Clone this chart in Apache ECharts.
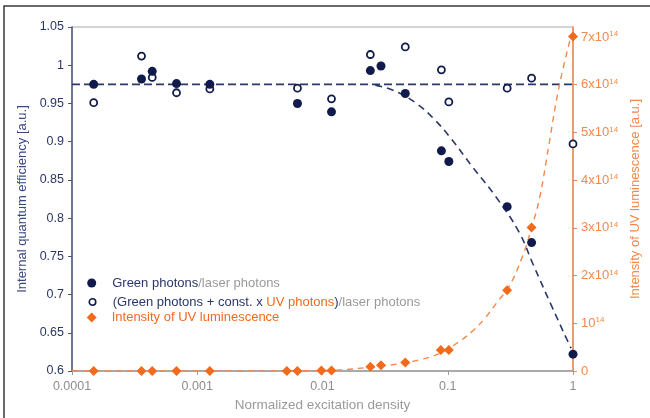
<!DOCTYPE html>
<html>
<head>
<meta charset="utf-8">
<script src="https://cdn.jsdelivr.net/npm/echarts@6/dist/echarts.min.js"></script>
<style>
  html, body { margin: 0; padding: 0; background: #ffffff; }
  #chart { width: 650px; height: 418px; }
</style>
</head>
<body>
<div id="chart"></div>
<script>
// Normalized excitation density of each measurement
const density = [1.49e-4, 3.59e-4, 4.37e-4, 6.83e-4, 1.26e-3, 6.31e-3, 1.18e-2, 2.41e-2, 2.93e-2, 4.58e-2, 8.9e-2, 1.02e-1, 2.98e-1, 4.67e-1, 1];
// Internal quantum efficiency: green photons / laser photons
const greenIqe = [0.975, 0.982, 0.992, 0.976, 0.975, 0.950, 0.939, 0.993, 0.999, 0.963, 0.888, 0.874, 0.815, 0.768, 0.622];
// (green photons + const. x UV photons) / laser photons
const greenUvIqe = [0.951, 1.012, 0.984, 0.964, 0.969, 0.970, 0.956, 1.014, null, 1.024, 0.994, 0.952, 0.970, 0.983, 0.897];

// UV luminescence intensity [a.u.]
const uvDensity = [1.49e-4, 3.59e-4, 4.37e-4, 6.83e-4, 1.26e-3, 5.19e-3, 6.31e-3, 9.8e-3, 1.18e-2, 2.41e-2, 2.93e-2, 4.58e-2, 8.8e-2, 1.02e-1, 2.98e-1, 4.67e-1, 1];
const uvIntensity = [0, 0, 0, 0, 0, 0, 0, 0.01e14, 0.01e14, 0.09e14, 0.12e14, 0.18e14, 0.44e14, 0.44e14, 1.69e14, 3.01e14, 7.01e14];

// Guide curves
const flatFitDensity = [1e-4, 1];
const flatFitIqe = [0.975, 0.975];
const droopFitDensity = [0.0264, 0.037, 0.0552, 0.0773, 0.1076, 0.1556, 0.2421, 0.370, 0.4786, 0.6792, 0.8954, 0.9638];
const droopFitIqe = [0.974, 0.967, 0.951, 0.930, 0.903, 0.868, 0.828, 0.782, 0.740, 0.684, 0.641, 0.630];
const uvFitDensity = [1e-4, 0.0064, 0.0134, 0.0242, 0.0406, 0.0586, 0.0847, 0.1225, 0.1614, 0.2014, 0.2559, 0.3076, 0.391, 0.467, 0.5445, 0.6427, 0.7727, 0.964];
const uvFitIntensity = [0, 0.005e14, 0.02e14, 0.08e14, 0.15e14, 0.23e14, 0.36e14, 0.61e14, 0.86e14, 1.13e14, 1.49e14, 1.76e14, 2.37e14, 3.0e14, 3.66e14, 4.75e14, 5.95e14, 7.02e14];

// Axis tick labels
const xTickLabels = ['0.0001', '0.001', '0.01', '0.1', '1'];
const uvTickLabels = ['0', '{n|10}{s|14}', '{n|2x10}{s|14}', '{n|3x10}{s|14}', '{n|4x10}{s|14}',
                      '{n|5x10}{s|14}', '{n|6x10}{s|14}', '{n|7x10}{s|14}'];
const uvTickValues = [0, 1e14, 2e14, 3e14, 4e14, 5e14, 6e14, 7e14];

// Legend entries
const legendTexts = [
  '{n|Green photons}{g|/laser photons}',
  '{n|(Green photons + const. x }{o|UV photons}{n|)}{g|/laser photons}',
  '{o|Intensity of UV luminescence}'
];

const NAVY = '#111b4b';
const NAVY_LINE = '#2a376b';
const NAVY_TEXT = '#2b3668';
const ORANGE = '#f26a1c';
const ORANGE_LINE = '#f5884a';
const GRAY = '#8d8d8d';
const FONT = '"Liberation Sans", Arial, Helvetica, sans-serif';

const pairs = (xs, ys) => xs.map((x, i) => [x, ys[i]]).filter(p => p[1] != null);

const legendRich = {
  n: { color: NAVY_TEXT, fontSize: 13, fontFamily: FONT },
  g: { color: '#9a9a9a', fontSize: 13, fontFamily: FONT },
  o: { color: ORANGE, fontSize: 13, fontFamily: FONT }
};

function makeLegend(name, idx, top, size, gapPad) {
  return {
    data: [name],
    left: 91.7 - size / 2,
    top: top,
    orient: 'vertical',
    padding: 0,
    itemWidth: size,
    itemHeight: size,
    selectedMode: false,
    formatter: () => legendTexts[idx],
    textStyle: { fontFamily: FONT, fontSize: 13, padding: [0, 0, 0, gapPad], rich: legendRich }
  };
}

const chart = echarts.init(document.getElementById('chart'), null, { renderer: 'canvas' });

chart.setOption({
  animation: false,
  backgroundColor: '#ffffff',
  textStyle: { fontFamily: FONT },
  graphic: [{
    type: 'rect',
    shape: { x: 4, y: 6, width: 700, height: 500 },
    style: { fill: 'none', stroke: '#3a3a3a', lineWidth: 1.5 },
    silent: true
  }],
  grid: {
    left: 72, right: 76, top: 27, bottom: 47,
    show: true, borderColor: '#a8a8a8', borderWidth: 1, backgroundColor: 'transparent'
  },
  legend: [
    makeLegend('green', 0, 276.5, 9, 11),
    {
      ...makeLegend('greenUv', 1, 295.5, 6.5, 12),
      itemStyle: { borderWidth: 1.6 }
    },
    makeLegend('uv', 2, 311, 10, 10)
  ],
  xAxis: {
    type: 'log',
    logBase: 10,
    min: 1e-4,
    max: 1,
    name: 'Normalized excitation density',
    nameLocation: 'middle',
    nameGap: 26,
    nameTextStyle: { color: '#9a9a9a', fontSize: 13.5, fontFamily: FONT },
    axisLine: { lineStyle: { color: '#9c9c9c', width: 1.5 } },
    axisTick: { show: true, length: 4, lineStyle: { color: '#9c9c9c', width: 1 } },
    minorTick: { show: false },
    splitLine: { show: false },
    axisLabel: {
      color: GRAY, fontSize: 12.5, fontFamily: FONT, margin: 9,
      formatter: v => xTickLabels[Math.round(Math.log10(v)) + 4] || ''
    }
  },
  yAxis: [{
    type: 'value',
    min: 0.6,
    max: 1.05,
    interval: 0.05,
    name: 'Internal quantum efficiency [a.u.]',
    nameLocation: 'middle',
    nameRotate: 90,
    nameGap: 36,
    nameTextStyle: { color: '#3a4882', fontSize: 13, fontFamily: FONT },
    axisLine: { show: true, lineStyle: { color: '#4b5386', width: 1.5 } },
    axisTick: { show: true, length: 4, lineStyle: { color: '#4b5386', width: 1 } },
    splitLine: { show: false },
    axisLabel: { color: NAVY_TEXT, fontSize: 12.5, fontFamily: FONT, margin: 8 }
  }, {
    type: 'value',
    position: 'right',
    min: 0,
    max: 7.21e14,
    interval: 1e14,
    name: 'Intensity of UV luminescence [a.u.]',
    nameLocation: 'middle',
    nameRotate: 90,
    nameGap: 54,
    nameTextStyle: { color: ORANGE_LINE, fontSize: 13, fontFamily: FONT },
    axisLine: { show: true, lineStyle: { color: ORANGE_LINE, width: 1.5 } },
    axisTick: { show: true, length: 4, customValues: uvTickValues, lineStyle: { color: ORANGE_LINE, width: 1 } },
    splitLine: { show: false },
    axisLabel: {
      color: ORANGE_LINE, fontSize: 13, fontFamily: FONT, margin: 8,
      customValues: uvTickValues,
      formatter: v => uvTickLabels[Math.round(v / 1e14)] || '',
      rich: {
        n: { color: ORANGE_LINE, fontSize: 13, fontFamily: FONT },
        s: { color: ORANGE_LINE, fontSize: 8, fontFamily: FONT, verticalAlign: 'top', padding: [0, 0, 6, 0] }
      }
    }
  }],
  series: [
    {
      name: 'flatFit', type: 'line', yAxisIndex: 0, symbol: 'none', silent: true, z: 1,
      data: pairs(flatFitDensity, flatFitIqe),
      lineStyle: { color: NAVY_LINE, width: 1.6, type: [8, 4] }
    },
    {
      name: 'droopFit', type: 'line', yAxisIndex: 0, symbol: 'none', silent: true, z: 1, smooth: 0.4,
      data: pairs(droopFitDensity, droopFitIqe),
      lineStyle: { color: NAVY_LINE, width: 1.6, type: [7, 5] }
    },
    {
      name: 'uvFit', type: 'line', yAxisIndex: 1, symbol: 'none', silent: true, z: 1, smooth: 0.4,
      data: pairs(uvFitDensity, uvFitIntensity),
      lineStyle: { color: ORANGE_LINE, width: 1.4, type: [6, 5] }
    },
    {
      name: 'uv', type: 'scatter', yAxisIndex: 1, symbol: 'diamond', symbolSize: 10, z: 3,
      data: pairs(uvDensity, uvIntensity),
      itemStyle: { color: ORANGE, opacity: 1 }
    },
    {
      name: 'greenUv', type: 'scatter', yAxisIndex: 0, symbol: 'circle', symbolSize: 7, z: 4,
      data: pairs(density, greenUvIqe),
      itemStyle: { color: '#ffffff', borderColor: NAVY, borderWidth: 1.8, opacity: 1 }
    },
    {
      name: 'green', type: 'scatter', yAxisIndex: 0, symbol: 'circle', symbolSize: 9, z: 5,
      data: pairs(density, greenIqe),
      itemStyle: { color: NAVY, opacity: 1 }
    }
  ]
});
</script>
</body>
</html>
